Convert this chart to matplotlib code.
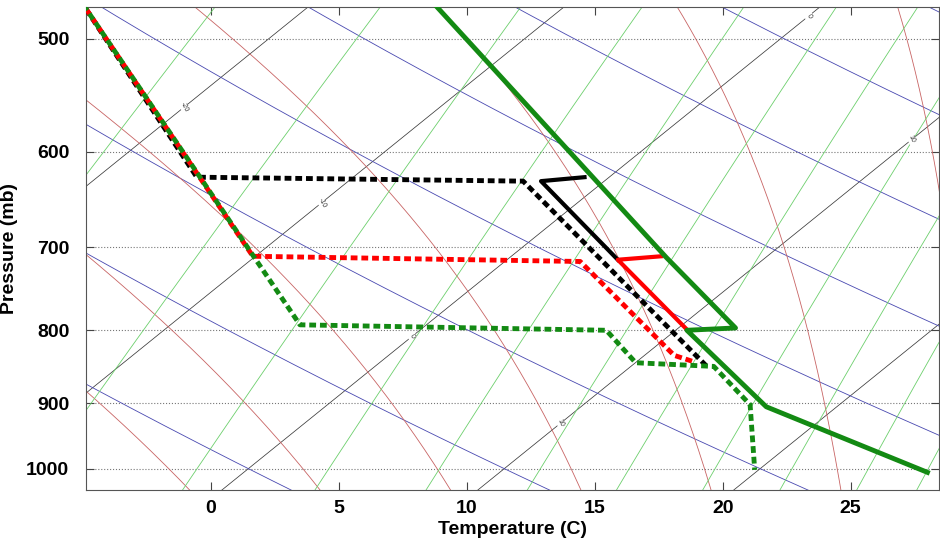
import numpy as np
import matplotlib
matplotlib.use("Agg")
import matplotlib.pyplot as plt

# profile values (x = skewed temperature axis, C; p in mb)
temp_green_x = [8.6, 17.8, 20.5, 18.6, 21.7, 28.0]
temp_green_p = [470, 711.5, 797, 800, 905, 1006]
temp_red_x = [17.6, 15.9, 18.6]
temp_red_p = [710, 714, 799]
temp_black_x = [14.6, 12.9, 15.9]
temp_black_p = [625, 629, 714]

dew_black_x = [-5.1, -0.55, 12.2, 19.35]
dew_black_p = [470, 625, 629, 847]
dew_red_x = [-5.1, 1.64, 14.43, 18.1, 18.9]
dew_red_p = [470, 710, 716, 833, 842]
dew_green_x = [-5.1, 3.48, 15.45, 16.6, 19.65, 21.07, 21.25]
dew_green_p = [470, 793, 800, 843, 848, 902, 1002]

# background diagram lines
isotherms = [-50, -40, -30, -20, -10, 0, 10, 20, 30, 40]
dry_thetas = [-20, -10, 0, 10, 20, 30, 40, 50, 60, 70, 80, 90]
moist_starts = [-10, -5, 0, 5, 10, 15, 20, 25, 30, 35]
mix_ratios = [1.2, 2.1, 3.3, 4.8, 6.5, 8.5, 10.7, 13.3, 16.1, 19.4, 22.4]

isotherm_labels = {-20: [558], -10: [651], 0: [808, 482], 10: [929, 588]}

yticks = [500, 600, 700, 800, 900, 1000]
xticks = [0, 5, 10, 15, 20, 25]

P_REF = 1050.0
SKEW = 30.0


def skew_x(t, p):
    return t + SKEW * np.log(P_REF / p)


def moist_adiabat(t0):
    ps = np.linspace(1060, 460, 700)
    ts = [t0 + 273.15]
    Lv, Rd, cp = 2.5e6, 287.04, 1005.7
    for i in range(1, len(ps)):
        T = ts[-1]
        p = ps[i - 1]
        es = 6.112 * np.exp(17.67 * (T - 273.15) / (T - 273.15 + 243.5))
        rs = 0.622 * es / (p - es)
        dTdp = (Rd * T + Lv * rs) / (p * (cp + Lv * Lv * rs * 0.622 / (Rd * T * T)))
        ts.append(T + dTdp * (ps[i] - p))
    return ps, np.array(ts) - 273.15


def plot():
    plt.rcParams["font.family"] = ["Liberation Sans Narrow", "DejaVu Sans Condensed",
                                   "Liberation Sans", "DejaVu Sans"]
    fig = plt.figure(figsize=(9.4, 5.5), dpi=100)
    ax = fig.add_axes([0.0915, 0.1091, 0.9074, 0.8782])

    p = np.linspace(460, 1060, 300)
    for t in isotherms:
        ax.plot(skew_x(t, p), p, color="#3a3a3a", lw=0.55, zorder=1)
        for lp in isotherm_labels.get(t, []):
            ax.text(skew_x(t, lp), lp, str(t), fontsize=5, rotation=-65,
                    ha="center", va="center", color="#333333", zorder=2,
                    bbox=dict(facecolor="white", edgecolor="none", pad=0.5))
    for th in dry_thetas:
        t = (th + 273.15) * (p / 1000.0) ** 0.2857 - 273.15
        ax.plot(skew_x(t, p), p, color="#4848b0", lw=0.6, zorder=1)
    for t0 in moist_starts:
        mp, mt = moist_adiabat(t0)
        ax.plot(skew_x(mt, mp), mp, color="#c86464", lw=0.6, zorder=1)
    for w in mix_ratios:
        e = w * p / (622.0 + w)
        a = np.log(e / 6.112)
        td = 243.5 * a / (17.67 - a)
        ax.plot(skew_x(td, p), p, color="#6ccf6c", lw=0.6, zorder=1)

    ax.plot(dew_black_x, dew_black_p, color="black", lw=3.5,
            linestyle=(0, (1.4, 0.8)), zorder=3)
    ax.plot(dew_red_x, dew_red_p, color="#ff0000", lw=3.5,
            linestyle=(0, (1.4, 0.8)), zorder=4)
    ax.plot(dew_green_x, dew_green_p, color="#138a13", lw=3.5,
            linestyle=(1.1, (1.4, 0.8)), zorder=5)

    ax.plot(temp_black_x, temp_black_p, color="black", lw=3, zorder=6)
    ax.plot(temp_red_x, temp_red_p, color="#ff0000", lw=3, zorder=7)
    ax.plot(temp_green_x, temp_green_p, color="#138a13", lw=3.5, zorder=8)

    ax.set_yscale("log")
    ax.set_ylim(1035, 475)
    ax.set_xlim(-4.88, 28.45)
    ax.yaxis.set_minor_locator(matplotlib.ticker.NullLocator())
    ax.set_yticks(yticks)
    ax.set_yticklabels([str(v) for v in yticks])
    ax.set_xticks(xticks)
    ax.set_xticklabels([str(v) for v in xticks])
    ax.yaxis.grid(True, linestyle=":", color="#777777", lw=0.8, zorder=0)
    ax.set_axisbelow(True)
    ax.tick_params(direction="in", length=6, width=0.8, top=True, right=True,
                   labelsize=14, colors="#444444", labelcolor="black")
    ax.tick_params(axis="y", pad=12)
    ax.tick_params(axis="x", pad=7)
    for lab in ax.get_xticklabels() + ax.get_yticklabels():
        lab.set_fontweight("bold")
    for s in ax.spines.values():
        s.set_color("#555555")
        s.set_linewidth(0.8)

    ax.set_xlabel("Temperature (C)", fontsize=14, fontweight="bold", labelpad=3)
    ax.set_ylabel("Pressure (mb)", fontsize=14, fontweight="bold", labelpad=6)

    fig.savefig("out.png", dpi=100)


def main():
    plot()


if __name__ == "__main__":
    main()
